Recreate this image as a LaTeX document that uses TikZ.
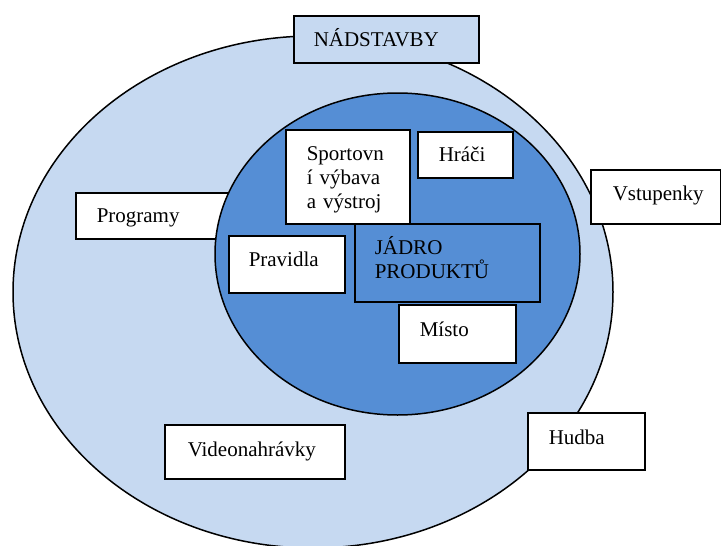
\documentclass[tikz,border=0pt]{standalone}
\usepackage{fontspec}
\setmainfont{Liberation Serif}
\definecolor{outerblue}{HTML}{C6D9F1}
\definecolor{innerblue}{HTML}{558ED5}
\begin{document}
\begin{tikzpicture}[x=1pt,y=-1pt,
  lbl/.style={draw=black, line width=1.5pt, fill=white, anchor=north west,
    inner xsep=0pt, inner ysep=0pt, align=left,
    font=\fontsize{21}{24.2}\selectfont, text=black,
    text height=14pt, text depth=0pt},
  lift/.style={text depth=#1},
  ring/.style={draw=black, line width=1.5pt}]
\useasboundingbox (0,0) rectangle (721,546);
% outer ellipse
\draw[ring, fill=outerblue] (313,292) ellipse [x radius=300pt, y radius=256pt];
% outer labels
\node[lbl, fill=outerblue, minimum width=185pt, minimum height=47pt, text width=145pt] (nad) at (293,15) {NÁDSTAVBY};
\node[lbl, minimum width=160pt, minimum height=46pt, text width=118pt] (prog) at (75,192) {Programy};
\node[lbl, lift=6pt, minimum width=130pt, minimum height=54pt, text width=86pt] (vstup) at (590,169) {Vstupenky};
\node[lbl, lift=7pt, minimum width=117pt, minimum height=57pt, text width=75pt] (hudba) at (527,412) {Hudba};
\node[lbl, lift=4pt, minimum width=180pt, minimum height=54pt, text width=134pt] (video) at (164,424) {Videonahrávky};
% inner ellipse
\draw[ring, fill=innerblue] (397.5,254) ellipse [x radius=182.5pt, y radius=161pt];
% inner labels
\node[lbl, lift=47pt, minimum width=124pt, minimum height=94pt, text width=82pt] (sport) at (285,129) {Sportovn\\í výbava\\a výstroj};
\node[lbl, minimum width=95pt, minimum height=46pt, text width=53pt] (hraci) at (417,131) {Hráči};
\node[lbl, lift=10pt, minimum width=116pt, minimum height=57pt, text width=76pt] (prav) at (228,235) {Pravidla};
\node[lbl, lift=30pt, fill=innerblue, minimum width=185pt, minimum height=78pt, text width=145pt] (jadro) at (354,223) {JÁDRO\\PRODUKTŮ};
\node[lbl, lift=8pt, minimum width=117pt, minimum height=58pt, text width=75pt] (misto) at (398,304) {Místo};
\end{tikzpicture}
\end{document}
